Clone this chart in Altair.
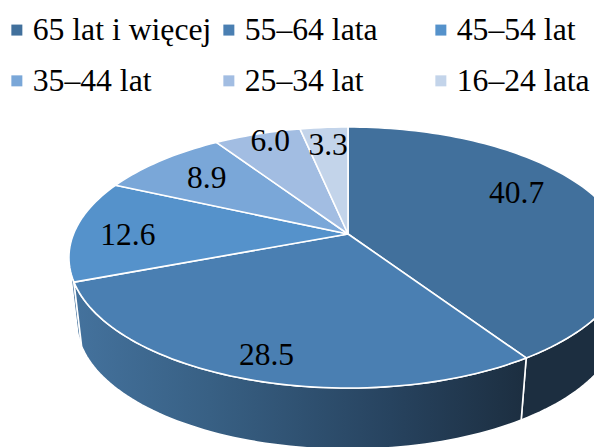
import math
import numpy as np
import altair as alt

# Share of each age group, in percent
age_groups = ["65 lat i więcej", "55–64 lata", "45–54 lat", "35–44 lat", "25–34 lat", "16–24 lata"]
shares = [40.7, 28.5, 12.6, 8.9, 6.0, 3.3]
top_colors = ["#41709c", "#4a7fb2", "#5592cb", "#7aa7d8", "#a2bde2", "#c3d4ea"]

# Where each value label sits inside its slice
label_radius = [0.735, 0.86, 0.80, 0.73, 0.90, 0.80]
label_shift = [-3.0, -0.2, -0.8, -0.1, 0.4, 0.0]

# Pie geometry in pixels: apex, radii, perspective strength and wall extrusion
APEX_X, APEX_Y = 348.0, 234.0
RADIUS_X, RADIUS_Y = 274.5, 126.3
PERSPECTIVE = 0.18
WALL_DROP, WALL_SCALE = 65.5, 0.972
LEFT_SILHOUETTE = 255.0
RIGHT_HIDDEN = 90.0

SERIF = "'Liberation Serif', 'Times New Roman', Times, serif"


def project(angle_deg, radial=1.0):
    """Clockwise-from-north angle on the tilted disc to screen coordinates."""
    a = math.radians(angle_deg)
    u, v = radial * math.sin(a), radial * math.cos(a)
    s = 1.0 / (1.0 + PERSPECTIVE * v)
    return APEX_X + RADIUS_X * u * s, APEX_Y - RADIUS_Y * v * s


def lower(point):
    """Matching point on the lower rim of the side wall."""
    x, y = point
    return (
        APEX_X + (x - APEX_X) * WALL_SCALE,
        APEX_Y + WALL_DROP + (y - APEX_Y) * WALL_SCALE,
    )


def arc(start, end):
    steps = max(2, int(abs(end - start) / 1.5) + 1)
    return [project(t) for t in np.linspace(start, end, steps)]


def polygon(points, **props):
    ring = [list(p) for p in points]
    ring.append(ring[0])
    return {
        "type": "Feature",
        "geometry": {"type": "Polygon", "coordinates": [ring]},
        "properties": props,
    }


edges = np.cumsum([0.0] + shares) * 3.6 * (100.0 / sum(shares))

top_features = [
    polygon([(APEX_X, APEX_Y)] + arc(edges[i], edges[i + 1]), group=age_groups[i])
    for i in range(len(shares))
]


def wall(start, end):
    rim = arc(start, end)
    return [polygon(rim + [lower(p) for p in reversed(rim)])]


label_rows = []
for i, share in enumerate(shares):
    middle = (edges[i] + edges[i + 1]) / 2 + label_shift[i] * 3.6
    x, y = project(middle, label_radius[i])
    label_rows.append({"lon": x, "lat": y, "text": f"{share:.1f}"})

projection = dict(type="identity", scale=1, translate=[0, 0])
edge = dict(stroke="white", strokeWidth=1.6, strokeJoin="round")


def wall_layer(features, fill):
    return (
        alt.Chart(alt.Data(values=features))
        .mark_geoshape(fill=fill, **edge)
        .project(**projection)
    )


# Side walls, lit from the left and falling off into shadow on the right
wall_oldest = wall_layer(wall(RIGHT_HIDDEN, edges[1]), "#1c2e40")
wall_second = wall_layer(
    wall(edges[1], edges[2]),
    alt.Gradient(
        gradient="linear",
        x1=0, x2=1, y1=0, y2=0,
        stops=[
            alt.GradientStop(offset=0.0, color="#44729d"),
            alt.GradientStop(offset=0.3, color="#386084"),
            alt.GradientStop(offset=0.7, color="#27435f"),
            alt.GradientStop(offset=1.0, color="#1c2e40"),
        ],
    ),
)
wall_third = wall_layer(wall(edges[2], LEFT_SILHOUETTE), "#44729d")

tops = (
    alt.Chart(alt.Data(values=top_features))
    .mark_geoshape(**edge)
    .encode(
        color=alt.Color(
            "properties.group:N",
            scale=alt.Scale(domain=age_groups, range=top_colors),
            legend=alt.Legend(
                title=None,
                orient="none",
                direction="horizontal",
                legendX=1,
                legendY=14,
                columns=3,
                gridAlign="all",
                columnPadding=1,
                rowPadding=18,
                symbolType="square",
                symbolSize=121,
                symbolStrokeWidth=0,
                symbolOpacity=1,
                labelFont=SERIF,
                labelFontSize=31.7,
                labelColor="black",
                labelLimit=400,
                labelOffset=0,
            ),
        )
    )
    .project(**projection)
)

labels = (
    alt.Chart(alt.Data(values=label_rows))
    .mark_text(font=SERIF, fontSize=31.5, color="black")
    .encode(longitude="lon:Q", latitude="lat:Q", text="text:N")
    .project(**projection)
)

chart = (
    alt.layer(wall_oldest, wall_third, wall_second, tops, labels)
    .properties(width=594, height=447, padding=0, autosize=alt.AutoSizeParams(type="none"))
    .configure_view(stroke=None)
    .configure(background="white")
)

chart.save("out.html", embed_options={"renderer": "svg", "actions": False})
